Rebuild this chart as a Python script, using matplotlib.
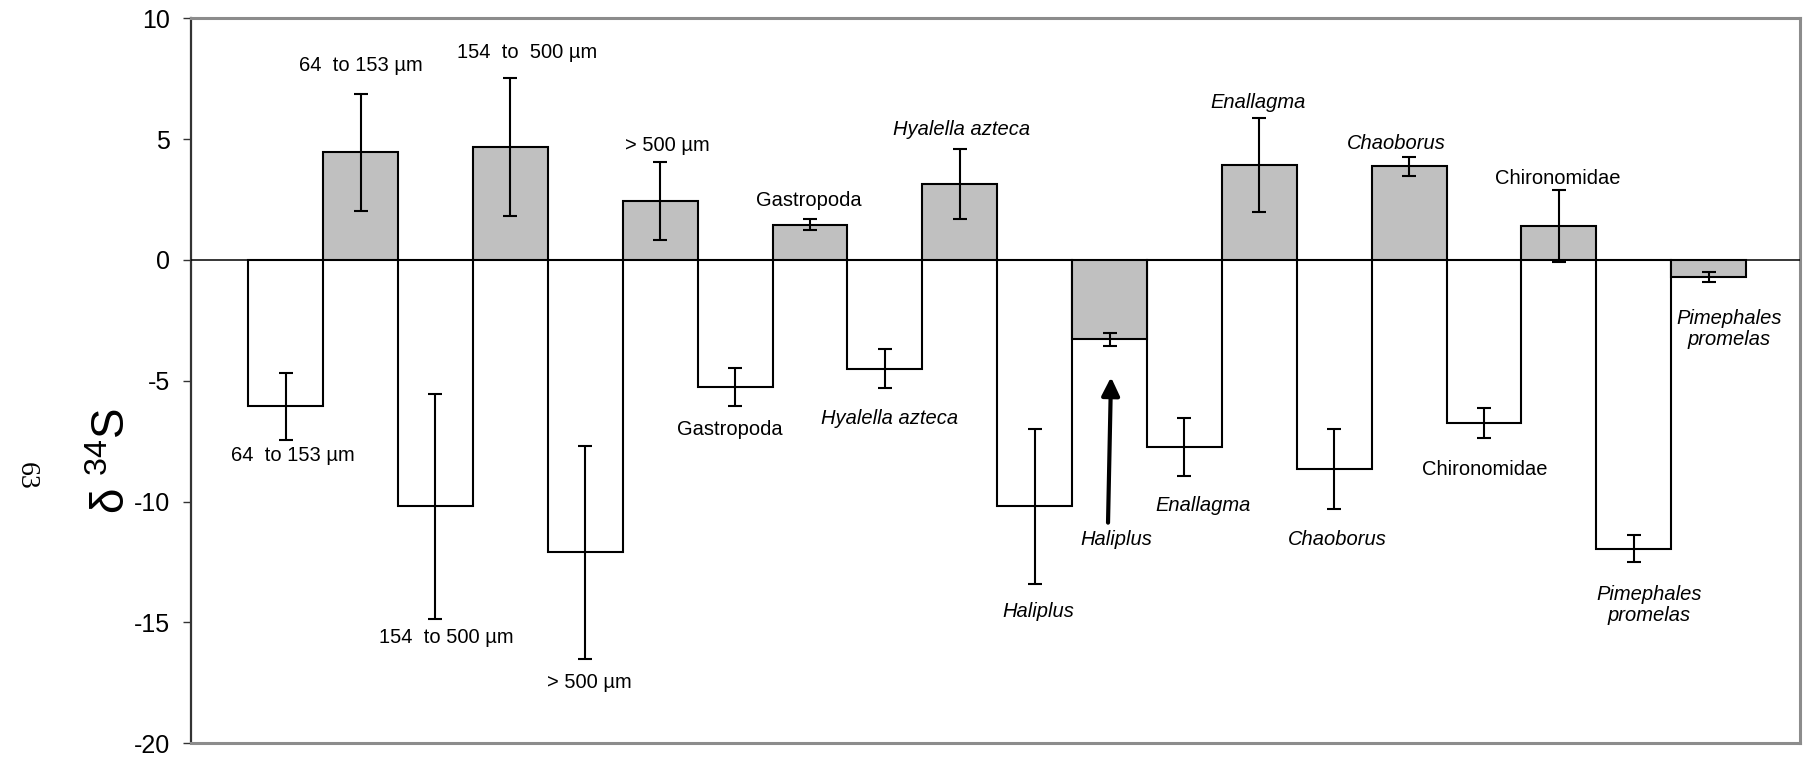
import numpy as np
import matplotlib.pyplot as plt

plt.rcParams['font.family'] = ['Liberation Sans', 'DejaVu Sans']
plt.rcParams['mathtext.fontset'] = 'custom'
plt.rcParams['mathtext.rm'] = 'Liberation Sans'
plt.rcParams['mathtext.it'] = 'Liberation Sans:italic'
plt.rcParams['axes.unicode_minus'] = False

# d34S per group: open bar (first of pair) and shaded bar (second of pair)
open_mean = [-6.05, -10.2, -12.1, -5.25, -4.5, -10.2, -7.75, -8.65, -6.75, -11.95]
open_err = [1.39, 4.66, 4.4, 0.8, 0.8, 3.2, 1.2, 1.64, 0.63, 0.55]
shaded_mean = [4.45, 4.68, 2.45, 1.46, 3.15, -3.28, 3.92, 3.88, 1.42, -0.72]
shaded_err = [2.43, 2.84, 1.62, 0.23, 1.45, 0.27, 1.94, 0.4, 1.49, 0.21]

open_labels = ['64  to 153 µm', '154  to 500 µm', '> 500 µm', 'Gastropoda',
               'Hyalella azteca', 'Haliplus', 'Enallagma', 'Chaoborus',
               'Chironomidae', 'Pimephales\npromelas']
shaded_labels = ['64  to 153 µm', '154  to  500 µm', '> 500 µm', 'Gastropoda',
                 'Hyalella azteca', 'Haliplus', 'Enallagma', 'Chaoborus',
                 'Chironomidae', 'Pimephales\npromelas']
italic = [False, False, False, False, True, True, True, True, False, True]

# where the labels sit (x shift from bar centre, y in axis units)
open_lab_dx = [0.09, 0.15, 0.06, -0.07, 0.06, 0.05, 0.25, 0.04, 0.01, 0.21]
open_lab_y = [-8.11, -15.64, -17.5, -7.03, -6.54, -14.56, -10.14, -11.58, -8.65, -14.27]
shaded_lab_dx = [0.01, 0.23, 0.1, -0.01, 0.02, 0.09, -0.02, -0.17, -0.02, 0.27]
shaded_lab_y = [8.03, 8.6, 4.72, 2.48, 5.38, -11.58, 6.5, 4.8, 3.39, -2.85]

n = len(open_mean)
x_open = np.arange(n) * 2
x_shaded = x_open + 1

fig = plt.figure(figsize=(18.04, 7.57), dpi=100)
ax = fig.add_axes([0.1059, 0.0181, 0.8919, 0.9577])

err_kw = dict(ecolor='black', elinewidth=1.5, capsize=4.7, capthick=1.5)
ax.bar(x_open, open_mean, width=1.0, color='white', edgecolor='black',
       linewidth=1.5, yerr=open_err, error_kw=err_kw, zorder=2)
ax.bar(x_shaded, shaded_mean, width=1.0, color='#c0c0c0', edgecolor='black',
       linewidth=1.5, yerr=shaded_err, error_kw=err_kw, zorder=2)
ax.axhline(0, color='black', lw=1.1, zorder=3)

for i in range(n):
    style = 'italic' if italic[i] else 'normal'
    ax.text(x_open[i] + open_lab_dx[i], open_lab_y[i], open_labels[i],
            ha='center', va='center', fontsize=14.5, style=style,
            linespacing=1.1)
    ax.text(x_shaded[i] + shaded_lab_dx[i], shaded_lab_y[i], shaded_labels[i],
            ha='center', va='center', fontsize=14.5, style=style,
            linespacing=1.1)

# arrow pointing up at the shaded Haliplus bar
hal = x_shaded[5]
ax.annotate('', xy=(hal + 0.02, -4.85), xytext=(hal - 0.02, -10.87),
            arrowprops=dict(arrowstyle='-|>,head_length=0.55,head_width=0.27',
                            mutation_scale=20, lw=3, color='black',
                            shrinkA=0, shrinkB=0), zorder=4)

ax.set_xlim(-1.264, 20.22)
ax.set_ylim(-20, 10)
ax.set_yticks([-20, -15, -10, -5, 0, 5, 10])
ax.set_xticks([])
ax.tick_params(axis='y', labelsize=18, length=6, width=1, pad=9, color='#333333')

ax.spines['left'].set_color('#333333')
ax.spines['left'].set_linewidth(1.6)
for s in ['top', 'right', 'bottom']:
    ax.spines[s].set_color('#8c8c8c')
    ax.spines[s].set_linewidth(2.2)

fig.text(0.0625, 0.391, r'δ $\mathregular{^{34}}$S', rotation=90, fontsize=33,
         ha='center', va='center')
fig.text(0.0143, 0.3712, '63', rotation=270, fontsize=20,
         family='Liberation Serif', ha='center', va='center')

fig.savefig('out.png', dpi=100)
